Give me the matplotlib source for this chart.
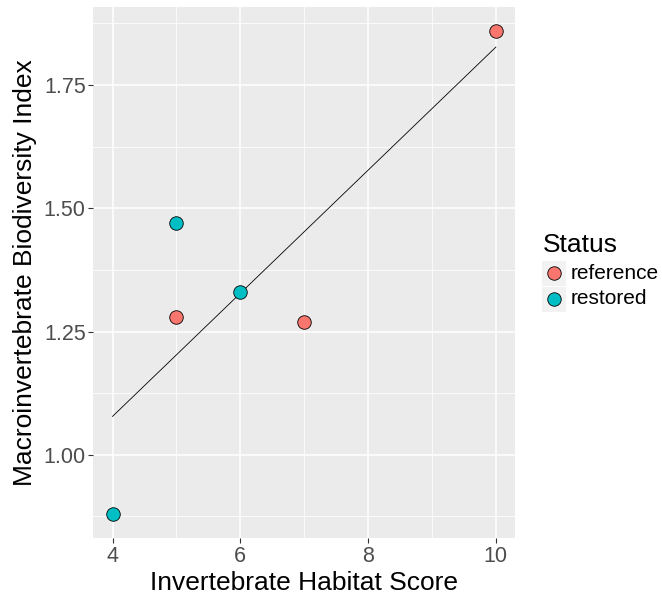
import numpy as np
import matplotlib.pyplot as plt
from matplotlib.ticker import MultipleLocator
from matplotlib.patches import Rectangle
from matplotlib.lines import Line2D

plt.rcParams['font.family'] = ['Liberation Sans', 'DejaVu Sans']

# Habitat score vs biodiversity index per site, split by status
ref_score = [5, 7, 10]
ref_index = [1.28, 1.27, 1.86]
rest_score = [4, 5, 6]
rest_index = [0.88, 1.47, 1.33]

status_labels = ['reference', 'restored']
status_colors = ['#F8766D', '#00BFC4']

W, H = 662, 599
fig = plt.figure(figsize=(W / 100, H / 100), dpi=100)
ax = fig.add_axes([0.141, 0.1018, 0.637, 0.887])

ax.set_facecolor('#EBEBEB')
for s in ax.spines.values():
    s.set_visible(False)

ax.xaxis.set_major_locator(MultipleLocator(2))
ax.xaxis.set_minor_locator(MultipleLocator(1))
ax.yaxis.set_major_locator(MultipleLocator(0.25))
ax.yaxis.set_minor_locator(MultipleLocator(0.125))
ax.grid(which='major', color='white', linewidth=1.1)
ax.grid(which='minor', color='white', linewidth=0.55)
ax.set_axisbelow(True)
ax.tick_params(which='minor', length=0)
ax.tick_params(which='major', length=3.5, width=0.8, color='#333333',
               labelcolor='#4D4D4D', labelsize=15.5, pad=2)

# linear fit over all points
all_x = np.array(ref_score + rest_score)
all_y = np.array(ref_index + rest_index)
slope, icpt = np.polyfit(all_x, all_y, 1)
xs = np.array([all_x.min(), all_x.max()])
ax.plot(xs, slope * xs + icpt, color='black', linewidth=0.6, zorder=2)

ax.scatter(ref_score, ref_index, s=95, color=status_colors[0],
           edgecolor='black', linewidth=0.6, zorder=3)
ax.scatter(rest_score, rest_index, s=95, color=status_colors[1],
           edgecolor='black', linewidth=0.6, zorder=3)

xr = all_x.max() - all_x.min()
yr = all_y.max() - all_y.min()
ax.set_xlim(all_x.min() - 0.05 * xr, all_x.max() + 0.05 * xr)
ax.set_ylim(all_y.min() - 0.05 * yr, all_y.max() + 0.05 * yr)
ax.yaxis.set_major_formatter(plt.FuncFormatter(lambda v, p: f'{v:.2f}'))

ax.set_xlabel('Invertebrate Habitat Score', fontsize=19, labelpad=3)
ax.set_ylabel('Macroinvertebrate Biodiversity Index', fontsize=19, labelpad=5)

# legend drawn by hand (gray key boxes like ggplot)
fig.text(543 / W, 1 - 245 / H, 'Status', fontsize=19, va='center', ha='left')
key_top = 261
for i, (lab, col) in enumerate(zip(status_labels, status_colors)):
    y0 = key_top + i * 25.5
    fig.add_artist(Rectangle((542 / W, 1 - (y0 + 25) / H), 24 / W, 25 / H,
                             transform=fig.transFigure, facecolor='#F2F2F2',
                             edgecolor='none'))
    fig.add_artist(Line2D([554 / W], [1 - (y0 + 12.5) / H], marker='o',
                          markersize=9.7, markerfacecolor=col,
                          markeredgecolor='black', markeredgewidth=0.6,
                          linestyle='none', transform=fig.transFigure))
    fig.text(571 / W, 1 - (y0 + 12.5) / H, lab, fontsize=15, va='center',
             ha='left')

fig.savefig('out.png', dpi=100)
